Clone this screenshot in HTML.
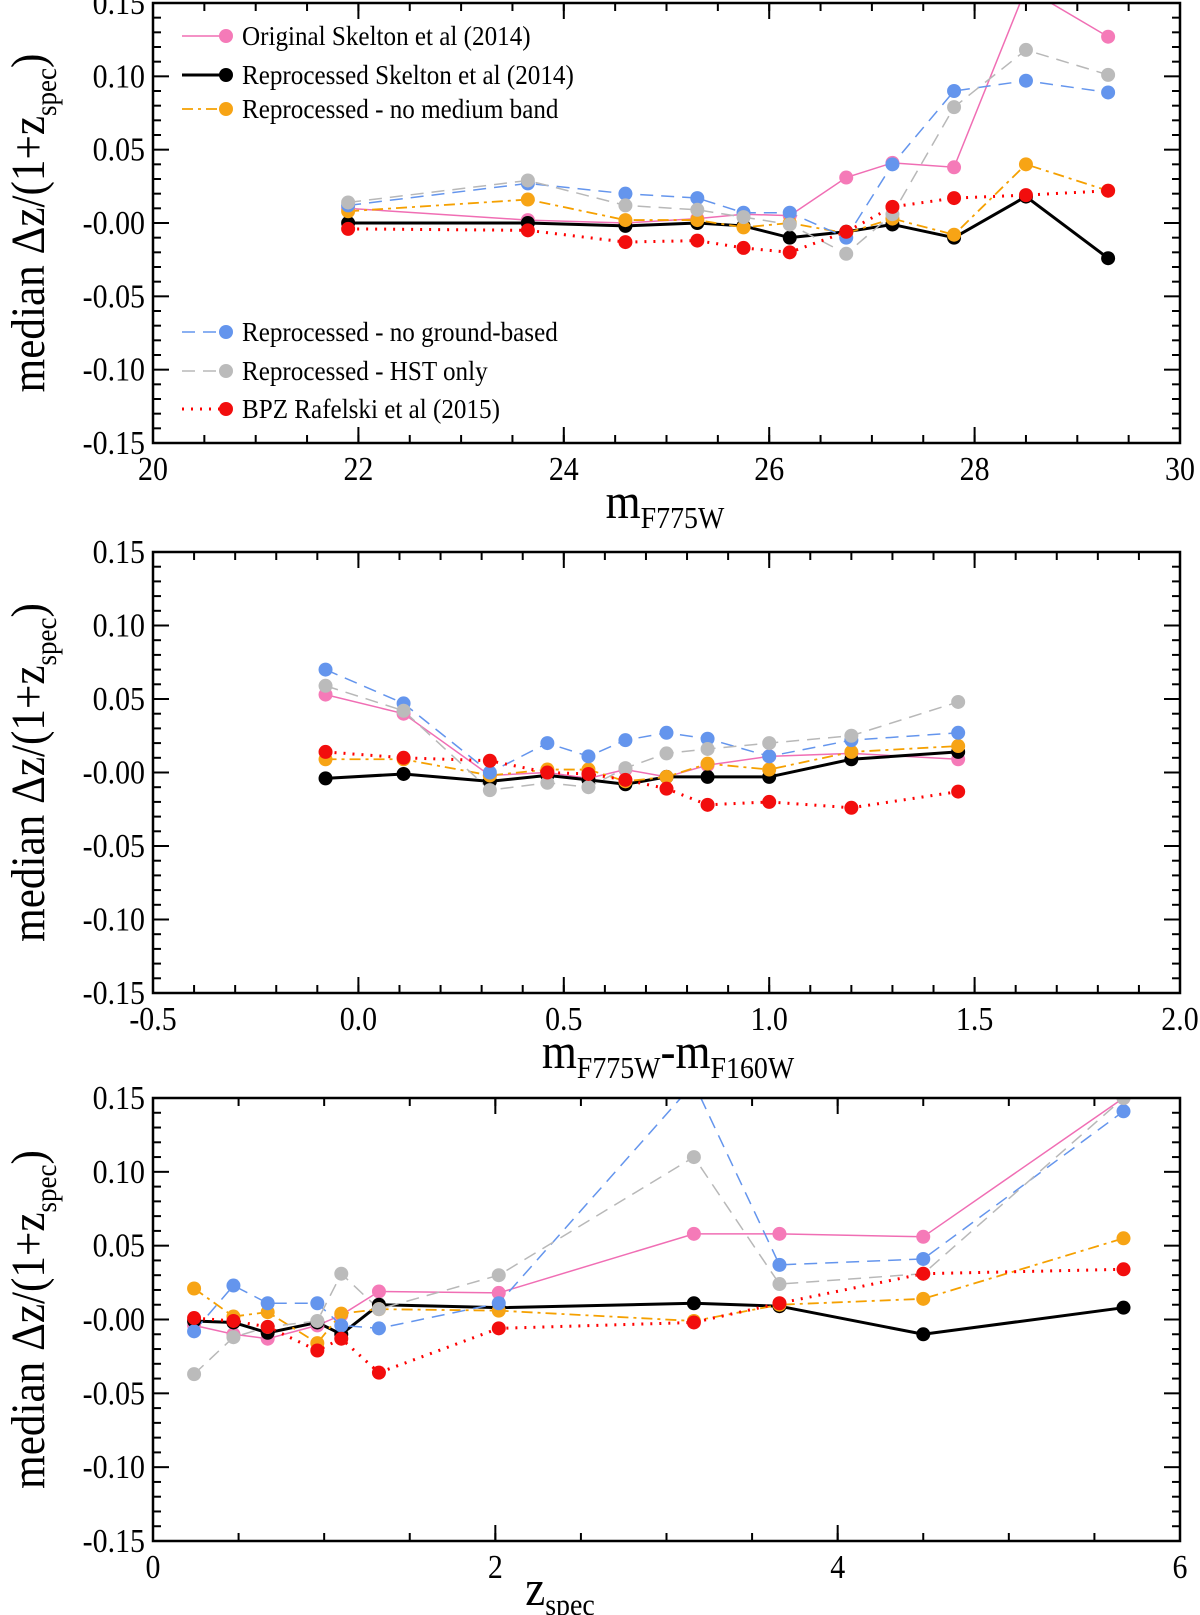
<!DOCTYPE html>
<html><head><meta charset="utf-8"><style>
body{margin:0;background:#fff}
svg{display:block}
text{font-family:"Liberation Serif","DejaVu Serif",serif;fill:#000}
</style></head><body>
<svg id="fig" width="1200" height="1615" viewBox="0 0 1200 1615"></svg>
<script>
// ---------- data ----------
const seriesNames = ["pink","black","orange","blue","gray","red"];
// Panel 1: m_F775W
const p1X = [21.9,23.65,24.6,25.3,25.75,26.2,26.75,27.2,27.8,28.5,29.3];
const p1Pink   = [0.010,0.002,0.000,0.003,0.006,0.005,0.031,0.041,0.038,0.160,0.127];
const p1Black  = [0.000,0.000,-0.002,0.000,-0.002,-0.010,-0.006,-0.001,-0.010,0.018,-0.024];
const p1Orange = [0.008,0.016,0.002,0.002,-0.003,0.000,-0.007,0.003,-0.008,0.040,0.022];
const p1Blue   = [0.012,0.027,0.020,0.017,0.007,0.007,-0.010,0.040,0.090,0.097,0.089];
const p1Gray   = [0.014,0.029,0.012,0.009,0.004,-0.001,-0.021,0.006,0.079,0.118,0.101];
const p1Red    = [-0.004,-0.005,-0.013,-0.012,-0.017,-0.020,-0.006,0.011,0.017,0.019,0.022];
// Panel 2: colour
const p2X = [-0.08,0.11,0.32,0.46,0.56,0.65,0.75,0.85,1.0,1.2,1.46];
const p2Pink   = [0.053,0.040,-0.002,0.000,-0.004,0.002,-0.003,0.005,0.011,0.013,0.009];
const p2Black  = [-0.004,-0.001,-0.006,-0.002,-0.005,-0.008,-0.003,-0.003,-0.003,0.009,0.014];
const p2Orange = [0.009,0.009,-0.002,0.002,0.002,-0.006,-0.003,0.006,0.002,0.014,0.018];
const p2Blue   = [0.070,0.047,0.000,0.020,0.011,0.022,0.027,0.023,0.011,0.022,0.027];
const p2Gray   = [0.059,0.042,-0.012,-0.007,-0.010,0.003,0.013,0.016,0.020,0.025,0.048];
const p2Red    = [0.014,0.010,0.008,0.000,-0.001,-0.005,-0.011,-0.022,-0.020,-0.024,-0.013];
// Panel 3: z_spec
const p3X = [0.24,0.47,0.67,0.96,1.1,1.32,2.02,3.16,3.66,4.5,5.67];
const p3Pink   = [-0.004,-0.010,-0.013,-0.004,0.003,0.019,0.018,0.058,0.058,0.056,0.150];
const p3Black  = [-0.001,-0.002,-0.009,-0.002,-0.010,0.010,0.008,0.011,0.009,-0.010,0.008];
const p3Orange = [0.021,0.002,0.005,-0.016,0.004,0.007,0.006,-0.001,0.010,0.014,0.055];
const p3Blue   = [-0.008,0.023,0.011,0.011,-0.004,-0.006,0.011,0.160,0.037,0.041,0.141];
const p3Gray   = [-0.037,-0.012,-0.005,-0.001,0.031,0.007,0.030,0.110,0.024,0.031,0.150];
const p3Red    = [0.001,-0.001,-0.005,-0.021,-0.013,-0.036,-0.006,-0.002,0.011,0.031,0.034];
const yTicks = [0.15,0.10,0.05,0.00,-0.05,-0.10,-0.15];
const yTickLabels = ["0.15","0.10","0.05","-0.00","-0.05","-0.10","-0.15"];
const p1XTicks = [20,22,24,26,28,30];
const p2XTicks = [-0.5,0.0,0.5,1.0,1.5,2.0];
const p2XTickLabels = ["-0.5","0.0","0.5","1.0","1.5","2.0"];
const p3XTicks = [0,2,4,6];
const legendLabels = ["Original Skelton et al (2014)","Reprocessed Skelton et al (2014)","Reprocessed - no medium band","Reprocessed - no ground-based","Reprocessed - HST only","BPZ Rafelski et al (2015)"];

// ---------- styles ----------
const styles = {
  pink:{c:"#f06eb4",w:1.5,d:"",m:"#f57ab8"},
  black:{c:"#000",w:3,d:"",m:"#000"},
  orange:{c:"#f5a000",w:1.8,d:"11,5,3,5",m:"#f7a415"},
  blue:{c:"#6495ed",w:1.5,d:"13,8",m:"#6495ed"},
  gray:{c:"#b8b8b8",w:1.5,d:"13,8",m:"#bbbbbb"},
  red:{c:"#f00",w:3,d:"2,7",m:"#f20d0d"}
};
const NS="http://www.w3.org/2000/svg";
const svg=document.getElementById('fig');
function el(tag,attrs,parent){const e=document.createElementNS(NS,tag);for(const k in attrs)e.setAttribute(k,attrs[k]);(parent||svg).appendChild(e);return e;}

function panel(id,box,xdom,xTicks,xLabels,minorStep,data,xs){
  const g=el('g',{});
  
  
  const sx=v=>box.l+(v-xdom[0])/(xdom[1]-xdom[0])*(box.r-box.l);
  const sy=v=>box.t+(0.15-v)/0.30*(box.b-box.t);
  const cp=el('clipPath',{id:id+'-clip'},g);
  el('rect',{x:box.l,y:box.t,width:box.r-box.l,height:box.b-box.t},cp);
  const nMin=Math.round((xdom[1]-xdom[0])/minorStep);
  for(let i=1;i<nMin;i++){const x=sx(xdom[0]+i*minorStep);
    el('line',{x1:x,x2:x,y1:box.b,y2:box.b-8,stroke:'#000','stroke-width':2},g);
    el('line',{x1:x,x2:x,y1:box.t,y2:box.t+8,stroke:'#000','stroke-width':2},g);}
  xTicks.forEach((v,i)=>{const x=sx(v);
    el('line',{x1:x,x2:x,y1:box.b,y2:box.b-16,stroke:'#000','stroke-width':2},g);
    el('line',{x1:x,x2:x,y1:box.t,y2:box.t+16,stroke:'#000','stroke-width':2},g);
    const t=el('text',{x:0,y:0,'font-size':34,'text-anchor':'middle',transform:`translate(${x},${box.b+37}) scale(0.88,1)`},g);
    t.textContent=xLabels[i];
    
    
  });
  for(let i=1;i<30;i++){const y=sy(0.15-i*0.01);
    const L=(i%5===0)?16:8;
    el('line',{x1:box.l,x2:box.l+L,y1:y,y2:y,stroke:'#000','stroke-width':2},g);
    el('line',{x1:box.r,x2:box.r-L,y1:y,y2:y,stroke:'#000','stroke-width':2},g);}
  yTicks.forEach((v,i)=>{
    const t=el('text',{x:0,y:0,'font-size':34,'text-anchor':'end',transform:`translate(${box.l-8},${sy(v)+11}) scale(0.88,1)`},g);
    t.textContent=yTickLabels[i];
    
    
  });
  const plot=el('g',{'clip-path':`url(#${id}-clip)`},g);
  data.forEach((arr,si)=>{const s=styles[seriesNames[si]];
    const pts=arr.map((v,i)=>sx(xs[i])+','+sy(v)).join(' ');
    const pl=el('polyline',{points:pts,fill:'none',stroke:s.c,'stroke-width':s.w,'stroke-dasharray':s.d},plot);
    
    
  });
  data.forEach((arr,si)=>{const s=styles[seriesNames[si]];
    arr.forEach((v,i)=>{const c=el('circle',{cx:sx(xs[i]),cy:sy(v),r:7,fill:s.m},plot);
      
      });
  });
  const fr=el('rect',{x:box.l,y:box.t,width:box.r-box.l,height:box.b-box.t,fill:'none',stroke:'#000','stroke-width':2.5},g);
  
  
  const cy=(box.t+box.b)/2;
  const yt=el('text',{x:0,y:0,'font-size':48,'text-anchor':'middle',transform:`translate(44,${cy}) rotate(-90) scale(0.9,1)`},g);
  yt.innerHTML='median Δz/(1+z<tspan font-size="30" dy="12">spec</tspan><tspan dy="-12">)</tspan>';
  
  
  return {g,sx,sy};
}
panel('panel-magnitude',{l:153,r:1180,t:3,b:443},[20,30],p1XTicks,p1XTicks.map(String),0.5,
  [p1Pink,p1Black,p1Orange,p1Blue,p1Gray,p1Red],p1X);
panel('panel-colour',{l:153,r:1180,t:552,b:993},[-0.5,2.0],p2XTicks,p2XTickLabels,0.1,
  [p2Pink,p2Black,p2Orange,p2Blue,p2Gray,p2Red],p2X);
panel('panel-zspec',{l:153,r:1180,t:1098,b:1541},[0,6],p3XTicks,p3XTicks.map(String),0.5,
  [p3Pink,p3Black,p3Orange,p3Blue,p3Gray,p3Red],p3X);

function xtitle(x,y,html,name){const t=el('text',{x:0,y:0,'font-size':50,'text-anchor':'middle',transform:`translate(${x},${y}) scale(0.9,1)`});
  t.innerHTML=html;}
xtitle(665,518,'m<tspan font-size="31" dy="10">F775W</tspan>','x-axis-title-magnitude');
xtitle(668,1068,'m<tspan font-size="31" dy="10">F775W</tspan><tspan dy="-10">-m</tspan><tspan font-size="31" dy="10">F160W</tspan>','x-axis-title-colour');
xtitle(560,1605,'z<tspan font-size="31" dy="10">spec</tspan>','x-axis-title-zspec');

const legY=[36,75,109,332,371,409];
legendLabels.forEach((lab,i)=>{const s=styles[seriesNames[i]];
  const g=el('g',{});
  
  
  el('line',{x1:182,x2:226,y1:legY[i],y2:legY[i],stroke:s.c,'stroke-width':s.w,'stroke-dasharray':s.d},g);
  el('circle',{cx:226,cy:legY[i],r:7,fill:s.m},g);
  const t=el('text',{x:0,y:0,'font-size':27,transform:`translate(242,${legY[i]+9}) scale(0.93,1)`},g);
  t.textContent=lab;
});
</script>
</body></html>
